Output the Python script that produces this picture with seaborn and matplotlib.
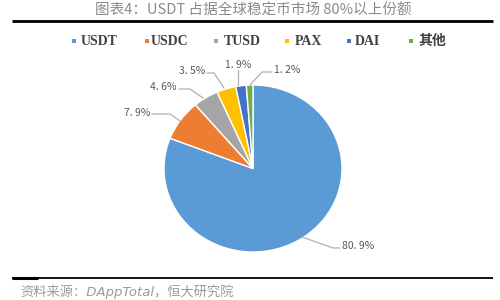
import matplotlib
matplotlib.use("Agg")
import matplotlib.pyplot as plt
import seaborn as sns

# ---- data ----
categories = ["USDT", "USDC", "TUSD", "PAX", "DAI", "其他"]
shares = [80.9, 7.9, 4.6, 3.5, 1.9, 1.2]
share_labels = ["80. 9%", "7. 9%", "4. 6%", "3. 5%", "1. 9%", "1. 2%"]
title_text = "图表4：USDT 占据全球稳定币市场 80%以上份额"
source_text = "资料来源：DAppTotal，恒大研究院"

sns.set_theme(style="white")
plt.rcParams["font.family"] = ["Noto Sans CJK SC", "DejaVu Sans"]
colors = sns.color_palette(["#5B9BD5", "#ED7D31", "#A5A5A5", "#FFC000", "#4472C4", "#70AD47"])

fig = plt.figure(figsize=(5, 3), dpi=100)

# pie axes (bounding box of the pie in pixels: x 164..342, y 85..252)
W, H = 500, 300
def box(x0, y0, x1, y1):
    return [x0 / W, 1 - y1 / H, (x1 - x0) / W, (y1 - y0) / H]

pax = fig.add_axes(box(164, 85, 342, 252))
pax.pie(shares, colors=colors, startangle=90, counterclock=False,
        wedgeprops=dict(edgecolor="white", linewidth=1.0))
pax.set_aspect("auto")
pax.set_xlim(-1, 1)
pax.set_ylim(-1, 1)
pax.axis("off")

# overlay in pixel coordinates
ov = fig.add_axes([0, 0, 1, 1], facecolor="none")
ov.set_xlim(0, W)
ov.set_ylim(H, 0)
ov.axis("off")

# title and rules
ov.text(253, 11, title_text, ha="center", va="center", fontsize=10.5, color="#8a8a8a")
ov.plot([12, 493], [21, 21], color="black", lw=2.0, solid_capstyle="butt")

# legend
leg_marker_x = [74, 147, 216, 287, 349, 411]
leg_text_x = [81, 151, 224, 295, 355, 418]
for c, mx, tx, name in zip(colors, leg_marker_x, leg_text_x, categories):
    ov.scatter([mx], [41], marker="s", s=7, color=c, linewidths=0)
    ov.text(tx, 41.5, name, ha="left", va="center", fontsize=10, fontweight="bold",
            color="#404040", family=["Liberation Serif", "Noto Sans CJK SC"])

# leader lines and labels
lc = "#b0b0b0"
tc = "#595959"
lines = [
    ([302, 333, 340], [237, 248, 248]),
    ([180, 170, 152], [121, 114, 114]),
    ([203, 190, 179], [98, 89, 89]),
    ([224, 214, 207], [88, 73, 73]),
    ([238, 238], [85, 70]),
    ([250, 262, 272], [85, 72, 72]),
]
label_pos = [(342, 246, "left"), (150, 113, "right"), (177, 87, "right"),
             (205, 71, "right"), (238, 65, "center"), (274, 70, "left")]
for (xs, ys), (lx, ly, ha), txt in zip(lines, label_pos, share_labels):
    ov.plot(xs, ys, color=lc, lw=0.9)
    ov.text(lx, ly, txt, ha=ha, va="center", fontsize=7.5, color=tc)

# bottom rule and source
ov.plot([12, 493], [278, 278], color="black", lw=1.3, solid_capstyle="butt")
ov.plot([12, 38], [278, 278], color="black", lw=2.2, solid_capstyle="butt")
ov.text(20, 292, source_text, ha="left", va="center", fontsize=9.5, color="#9a9a9a",
        style="italic", family=["DejaVu Sans", "Noto Sans CJK SC"])

fig.savefig("out.png", dpi=100, facecolor="white")
